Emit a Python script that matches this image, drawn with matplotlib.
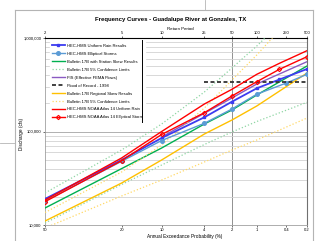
from statistics import NormalDist
import numpy as np
import matplotlib
matplotlib.use("Agg")
import matplotlib.pyplot as plt
from matplotlib.lines import Line2D
from matplotlib.ticker import LogLocator, NullFormatter, FixedLocator

plt.rcParams['font.family'] = ['Liberation Sans', 'DejaVu Sans']

# annual exceedance probabilities (%) of the computed points
aep_full = [50, 20, 10, 4, 2, 1, 0.5, 0.2]
aep_lit = [50, 20, 10, 4, 2, 1, 0.4, 0.2]
aep_std = [50, 20, 10, 4, 2, 1, 0.2]
aep_upper = [50, 20, 10, 4, 2, 1, 0.5]
aep_fis = [10, 2, 1, 0.2]
aep_record = [4, 0.2]

# discharges (cfs)
hms_uniform = [19000, 49600, 85200, 141900, 208400, 289700, 360000, 466100]
hms_ellip = [18050, 48000, 80100, 122400, 174000, 250600, 330200, 408800]
b17_station = [15200, 40100, 66600, 120300, 169800, 245700, 501800]
b17_station_up = [22000, 63400, 120300, 264500, 477600, 820900, 1412000]
b17_station_lo = [10500, 27100, 43800, 72600, 98800, 127900, 205300]
fis_flows = [87300, 228200, 322100, 557900]
flood_record = [341000, 341000]
b17_regional = [11030, 28100, 49600, 94000, 132700, 187400, 422100]
b17_regional_up = [13600, 36900, 71700, 178400, 355500, 657800, 1218000]
b17_regional_lo = [9290, 20430, 30300, 47200, 63400, 81100, 139400]
a14_uniform = [18500, 52100, 100000, 196800, 282700, 408800, 536400, 731500]
a14_ellip = [17750, 48700, 92900, 158900, 239700, 340900, 462700, 631000]

bottom_ticks = [50, 20, 10, 4, 2, 1, 0.4, 0.2]
bottom_labels = ['50', '20', '10', '4', '2', '1', '0.4', '0.2']
return_periods = [2, 5, 10, 25, 50, 100, 250, 500]


def z(p):
    # normal probability scale for exceedance probability in percent
    return np.array([NormalDist().inv_cdf(1 - v / 100.0) for v in np.atleast_1d(p)])


fig = plt.figure(figsize=(3.2, 2.41), dpi=100)
ax = fig.add_axes([45 / 320, 1 - 225 / 241, 262 / 320, 187 / 241])

ax.plot(z(aep_full), hms_uniform, color='#3c3cf0', lw=1.3, marker='s', ms=1.5,
        label='HEC-HMS Uniform Rain Results', zorder=4)
ax.plot(z(aep_lit), hms_ellip, color='#5b9bd5', lw=1.0, marker='o', ms=2.6,
        label='HEC-HMS Elliptical Storms', zorder=4)
ax.plot(z(aep_std), b17_station, color='#00b050', lw=1.0,
        label='Bulletin 17B with Station Skew Results', zorder=3)
ax.plot(z(aep_upper), b17_station_up, color='#8fd6a4', lw=0.9, ls=':',
        label='Bulletin 17B 5% Confidence Limits', zorder=3)
ax.plot(z(aep_std), b17_station_lo, color='#8fd6a4', lw=0.9, ls=':', zorder=3)
ax.plot(z(aep_fis), fis_flows, color='#8a5ac2', lw=1.0,
        label='FIS (Effective FEMA Flows)', zorder=3)
ax.plot(z(aep_record), flood_record, color='#333333', lw=1.3, ls=(0, (2.2, 1.4)),
        label='Flood of Record - 1998', zorder=5)
ax.plot(z(aep_std), b17_regional, color='#ffc000', lw=1.0,
        label='Bulletin 17B Regional Skew Results', zorder=3)
ax.plot(z(aep_upper), b17_regional_up, color='#ffd966', lw=0.9, ls=':',
        label='Bulletin 17B 5% Confidence Limits', zorder=3)
ax.plot(z(aep_std), b17_regional_lo, color='#ffd966', lw=0.9, ls=':', zorder=3)
ax.plot(z(aep_full), a14_uniform, color='#ff0000', lw=1.0,
        label='HEC-HMS NOAA Atlas 14 Uniform Rain', zorder=6)
ax.plot(z(aep_full), a14_ellip, color='#ff0000', lw=1.0, marker='D', ms=2.2,
        mfc='none', mew=0.8, label='HEC-HMS NOAA Atlas 14 Elliptical Storm', zorder=6)

ax.set_yscale('log')
ax.set_ylim(1e4, 1e6)
ax.set_xlim(0, z(0.2)[0])
ax.set_yticks([1e4, 1e5, 1e6])
ax.set_yticklabels(['10,000', '100,000', '1,000,000'])
ax.yaxis.set_minor_locator(LogLocator(base=10, subs=np.arange(2, 10)))
ax.yaxis.set_minor_formatter(NullFormatter())
ax.grid(axis='y', which='major', color='#b0b0b0', lw=0.7)
ax.grid(axis='y', which='minor', color='#d2d2d2', lw=0.6)
ax.axvline(z(2)[0], color='#909090', lw=0.7, zorder=1)
ax.set_xticks(z(bottom_ticks))
ax.set_xticklabels(bottom_labels)
ax.tick_params(labelsize=3.0, length=1.5, width=0.4, pad=1)
ax.tick_params(which='minor', length=0)
for side in ['left', 'bottom']:
    ax.spines[side].set_color('#a0a0a0')
    ax.spines[side].set_linewidth(0.6)
ax.spines['right'].set_color('#707070')
ax.spines['right'].set_linewidth(0.8)
ax.spines['top'].set_color('#000000')
ax.spines['top'].set_linewidth(0.8)

top = ax.twiny()
top.set_xlim(ax.get_xlim())
top.xaxis.set_major_locator(FixedLocator(z([100.0 / t for t in return_periods])))
top.set_xticklabels([str(t) for t in return_periods])
top.tick_params(labelsize=3.0, length=1.5, width=0.4, pad=1)
for s in top.spines.values():
    s.set_visible(False)

leg = ax.legend(loc='upper left', bbox_to_anchor=(0.019, 0.98), borderaxespad=0,
                fontsize=3.0, handlelength=3.0, handletextpad=0.5, labelspacing=0.95,
                borderpad=0.5, frameon=True, fancybox=False, framealpha=1,
                edgecolor='white')
leg.set_zorder(10)
ax.add_line(Line2D([0.370, 0.370], [0.551, 0.989], transform=ax.transAxes,
                   color='black', lw=0.7, zorder=11))

fig.text(171 / 320, 1 - 20 / 241, 'Frequency Curves - Guadalupe River at Gonzales, TX',
         ha='center', va='center', fontsize=4.3, fontweight='bold')
fig.text(180 / 320, 1 - 28.5 / 241, 'Return Period', ha='center', va='center', fontsize=3.2)
fig.text(185 / 320, 1 - 236.5 / 241, 'Annual Exceedance Probability (%)',
         ha='center', va='center', fontsize=3.4)
fig.text(22 / 320, 1 - 134 / 241, 'Discharge (cfs)', ha='center', va='center',
         rotation=90, fontsize=3.4)

# chart object frame and sheet lines
frame = '#b4b4b4'
fig.add_artist(Line2D([15 / 320, 313 / 320], [1 - 10 / 241, 1 - 10 / 241], color=frame, lw=0.8))
fig.add_artist(Line2D([15 / 320, 15 / 320], [0, 1 - 10 / 241], color=frame, lw=0.8))
fig.add_artist(Line2D([313 / 320, 313 / 320], [0, 1 - 10 / 241], color=frame, lw=0.8))
fig.add_artist(Line2D([205 / 320, 205 / 320], [1 - 10 / 241, 1], color=frame, lw=0.6))
fig.add_artist(Line2D([0, 15 / 320], [1 - 143 / 241, 1 - 143 / 241], color=frame, lw=0.6))

fig.savefig('out.png', dpi=100)
